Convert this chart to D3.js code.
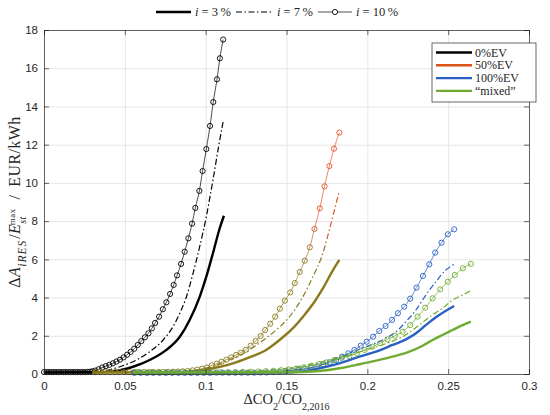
<!DOCTYPE html>
<html>
<head>
<meta charset="utf-8">
<script src="https://cdn.jsdelivr.net/npm/d3@7"></script>
<style>
  body { margin: 0; background: #fff; }
  svg { display: block; }
</style>
</head>
<body>
<script>
const w = 550;
const h = 415;

const xTicks = [0, 0.05, 0.1, 0.15, 0.2, 0.25, 0.3];
const yTicks = [0, 2, 4, 6, 8, 10, 12, 14, 16, 18];

const cases = ["0%EV", "50%EV", "100%EV", "\u201Cmixed\u201D"];
const rates = ["3", "7", "10"];

// 0%EV
const ev0_3 = [[0,0.08],[0.03,0.09],[0.0428,0.14],[0.0551,0.38],[0.0654,0.73],[0.0757,1.26],[0.084,1.95],[0.0901,2.83],[0.0963,4.04],[0.1004,5.09],[0.1045,6.32],[0.1086,7.6],[0.1113,8.28]];
const ev0_7 = [[0,0.08],[0.03,0.09],[0.038,0.17],[0.0469,0.38],[0.0572,0.73],[0.0654,1.17],[0.0737,1.78],[0.0798,2.48],[0.084,3.18],[0.0881,4.04],[0.0922,5.27],[0.0963,6.66],[0.1004,8.23],[0.1045,10.15],[0.108,11.9],[0.111,13.3]];
const ev0_10 = [[0,0.1],[0.0015,0.1],[0.003,0.1],[0.0045,0.1],[0.006,0.1],[0.0075,0.1],[0.009,0.1],[0.0105,0.1],[0.012,0.1],[0.0135,0.1],[0.015,0.1],[0.0165,0.1],[0.018,0.1],[0.0195,0.1],[0.021,0.1],[0.0225,0.1],[0.024,0.1],[0.0255,0.1],[0.027,0.11],[0.0285,0.12],[0.03,0.14],
  [0.0316,0.18],[0.0338,0.25],[0.036,0.34],[0.0382,0.41],[0.0404,0.48],[0.0426,0.56],[0.0448,0.65],[0.047,0.75],[0.0492,0.87],[0.0514,1.01],[0.0536,1.16],[0.0558,1.32],[0.058,1.52],[0.0602,1.72],[0.0624,1.92],[0.0646,2.13],[0.0667,2.39],[0.0687,2.67],[0.0712,3.0],[0.0735,3.39],[0.0757,3.75],[0.078,4.19],[0.0802,4.66],[0.0823,5.16],[0.0848,5.76],[0.087,6.4],[0.0893,7.1],[0.0916,7.87],[0.0936,8.69],[0.0961,9.58],[0.0981,10.62],[0.1004,11.77],[0.1027,12.98],[0.1047,14.23],[0.107,15.42],[0.1088,16.52],[0.1108,17.5]];

// 50%EV
const ev50_3 = [[0.03,0.08],[0.085,0.09],[0.095,0.16],[0.1045,0.3],[0.1169,0.56],[0.1282,0.91],[0.1374,1.26],[0.1457,1.78],[0.1549,2.48],[0.1611,3.09],[0.1673,3.78],[0.1725,4.48],[0.1786,5.41],[0.1827,5.97]];
const ev50_7 = [[0.03,0.09],[0.085,0.11],[0.095,0.2],[0.105,0.42],[0.1167,0.82],[0.1251,1.15],[0.1344,1.69],[0.1436,2.3],[0.1519,3.0],[0.1601,4.04],[0.1663,5.09],[0.1725,6.32],[0.1765,7.54],[0.18,8.7],[0.1827,9.58]];
const ev50_10 = [[0.0318,0.1],[0.0348,0.1],[0.0378,0.1],[0.0408,0.1],[0.0438,0.1],[0.0468,0.1],[0.0498,0.1],[0.0528,0.1],[0.0558,0.1],[0.0588,0.1],[0.0618,0.1],[0.0648,0.1],[0.0678,0.1],[0.0708,0.1],[0.0738,0.1],[0.0768,0.11],[0.0798,0.12],[0.0828,0.13],[0.0858,0.14],[0.0888,0.16],[0.0918,0.19],[0.0948,0.23],[0.0978,0.28],[0.1008,0.34],[0.1038,0.45],[0.1068,0.54],[0.1098,0.64],[0.1128,0.75],[0.1158,0.87],[0.1188,1.0],
  [0.1218,1.12],[0.1249,1.27],[0.1278,1.48],[0.1309,1.73],[0.134,1.99],[0.1368,2.3],[0.1399,2.63],[0.143,3.0],[0.1459,3.42],[0.149,3.84],[0.1523,4.27],[0.1551,4.76],[0.1582,5.34],[0.1613,5.93],[0.1644,6.63],[0.1673,7.59],[0.1706,8.67],[0.1735,9.82],[0.1765,10.88],[0.1794,11.79],[0.1827,12.63]];

// 100%EV
const ev100_3 = [[0.055,0.05],[0.14,0.07],[0.158,0.12],[0.1704,0.3],[0.1827,0.56],[0.1951,0.91],[0.2054,1.17],[0.2156,1.52],[0.2239,1.81],[0.2301,2.13],[0.2362,2.56],[0.2424,2.97],[0.2486,3.31],[0.2537,3.56]];
const ev100_7 = [[0.055,0.06],[0.13,0.08],[0.15,0.17],[0.1683,0.38],[0.1786,0.73],[0.1889,1.08],[0.1992,1.43],[0.2095,1.78],[0.2177,2.21],[0.2239,2.74],[0.2301,3.35],[0.2362,4.13],[0.2424,4.83],[0.2486,5.44],[0.2537,5.74]];
const ev100_10 = [[0.0559,0.06],[0.0598,0.06],[0.0637,0.06],[0.0676,0.06],[0.0715,0.06],[0.0754,0.06],[0.0793,0.06],[0.0832,0.06],[0.0871,0.06],[0.091,0.06],[0.0949,0.06],[0.0988,0.06],[0.1027,0.06],[0.1066,0.07],[0.1105,0.07],[0.1144,0.07],[0.1183,0.07],[0.1222,0.07],[0.1261,0.07],[0.13,0.07],[0.1339,0.08],[0.1378,0.08],[0.1417,0.1],[0.1456,0.12],[0.1495,0.15],[0.1534,0.18],[0.1573,0.22],[0.1612,0.27],[0.1651,0.33],
  [0.169,0.4],[0.1728,0.51],[0.1767,0.61],[0.1807,0.73],[0.1844,0.91],[0.1883,1.08],[0.192,1.26],[0.1959,1.48],[0.1996,1.69],[0.2035,1.95],[0.2074,2.25],[0.2113,2.51],[0.2153,2.83],[0.2189,3.18],[0.2228,3.52],[0.2265,3.94],[0.2304,4.52],[0.2344,5.13],[0.2383,5.74],[0.242,6.35],[0.2459,6.87],[0.2498,7.31],[0.2537,7.57]];

// "mixed"
const mix_3 = [[0.055,0.08],[0.15,0.09],[0.1704,0.16],[0.1827,0.3],[0.1951,0.51],[0.2054,0.7],[0.2156,0.91],[0.226,1.17],[0.2342,1.48],[0.2404,1.78],[0.2465,2.04],[0.2527,2.3],[0.2589,2.56],[0.264,2.74]];
const mix_7 = [[0.055,0.09],[0.13,0.15],[0.15,0.3],[0.165,0.5],[0.175,0.7],[0.185,0.9],[0.195,1.15],[0.205,1.4],[0.215,1.7],[0.2218,1.95],[0.228,2.3],[0.2342,2.7],[0.2404,3.1],[0.2465,3.44],[0.2527,3.87],[0.2589,4.13],[0.264,4.36]];
const mix_10 = [[0.0573,0.1],[0.062,0.1],[0.0667,0.1],[0.0714,0.1],[0.0761,0.1],[0.0808,0.1],[0.0855,0.1],[0.0902,0.1],[0.0949,0.1],[0.0996,0.1],[0.1043,0.1],[0.109,0.1],[0.1137,0.1],[0.1184,0.1],[0.1231,0.11],[0.1278,0.12],[0.1325,0.13],[0.1372,0.15],[0.1419,0.17],[0.1466,0.2],[0.1513,0.24],[0.156,0.29],
  [0.1607,0.35],[0.1654,0.43],[0.17,0.52],[0.1747,0.61],[0.1794,0.72],[0.1841,0.84],[0.1889,0.94],[0.1936,1.08],[0.1983,1.26],[0.2031,1.43],[0.2078,1.61],[0.2125,1.81],[0.2171,2.0],[0.2218,2.21],[0.2265,2.56],[0.2311,3.0],[0.2358,3.47],[0.2404,3.96],[0.2451,4.43],[0.2498,4.83],[0.2541,5.18],[0.2591,5.53],[0.264,5.76]];

const colors = ["#000000", "#d95319", "#2a5fc4", "#6fab30"];
const series = [
  [ev0_3, ev0_7, ev0_10],
  [ev50_3, ev50_7, ev50_10],
  [ev100_3, ev100_7, ev100_10],
  [mix_3, mix_7, mix_10]
];

const mLeft = 44, mRight = 529, mTop = 30, mBottom = 374;

const xScale = d3.scaleLinear().domain([0, 0.3]).range([mLeft, mRight]);
const yScale = d3.scaleLinear().domain([0, 18]).range([mBottom, mTop]);

const svg = d3.select("body").append("svg")
  .attr("width", w)
  .attr("height", h);

// gradient for the 50%EV curves (olive low, red high)
const grad = svg.append("defs").append("linearGradient")
  .attr("id", "g50")
  .attr("gradientUnits", "userSpaceOnUse")
  .attr("x1", 0).attr("x2", 0)
  .attr("y1", yScale(5.8)).attr("y2", yScale(8.2));
grad.append("stop").attr("offset", 0).attr("stop-color", "#8a7a1c");
grad.append("stop").attr("offset", 1).attr("stop-color", "#e4542a");

// grid
const gridCol = "#e6e6e6";
svg.append("g")
  .attr("transform", "translate(0," + mBottom + ")")
  .call(d3.axisBottom(xScale).tickValues(xTicks).tickSize(-(mBottom - mTop)).tickFormat(""))
  .call(g => g.select(".domain").remove())
  .call(g => g.selectAll("line").attr("stroke", gridCol).attr("class", "grid"));
svg.append("g")
  .attr("transform", "translate(" + mLeft + ",0)")
  .call(d3.axisLeft(yScale).tickValues(yTicks).tickSize(-(mRight - mLeft)).tickFormat(""))
  .call(g => g.select(".domain").remove())
  .call(g => g.selectAll("line").attr("stroke", gridCol).attr("class", "grid"));

// curves
const line = d3.line().x(d => xScale(d[0])).y(d => yScale(d[1])).curve(d3.curveMonotoneX);
const plot = svg.append("g");

series.forEach((s, k) => {
  const col = k === 1 ? "url(#g50)" : colors[k];
  // i = 3 %
  plot.append("path").datum(s[0])
    .attr("d", line).attr("fill", "none")
    .attr("stroke", col).attr("stroke-width", 2.4);
  // i = 7 %
  plot.append("path").datum(s[1])
    .attr("d", line).attr("fill", "none")
    .attr("stroke", col).attr("stroke-width", 1.2)
    .attr("stroke-dasharray", "6,2.5,1.5,2.5");
  // i = 10 %
  plot.append("path").datum(s[2])
    .attr("d", line).attr("fill", "none")
    .attr("stroke", col).attr("stroke-width", 0.7);
  plot.append("g").selectAll("circle")
    .data(s[2])
    .enter()
    .append("circle")
    .attr("cx", d => xScale(d[0]))
    .attr("cy", d => yScale(d[1]))
    .attr("r", 2.6)
    .attr("fill", "none")
    .attr("stroke", col)
    .attr("stroke-width", 0.9);
});

// axes
const axCol = "#262626";
const axes = svg.append("g");
axes.append("g")
  .attr("transform", "translate(0," + mBottom + ")")
  .call(d3.axisBottom(xScale).tickValues(xTicks).tickSize(-5).tickPadding(8).tickFormat(d => d));
axes.append("g")
  .attr("transform", "translate(" + mLeft + ",0)")
  .call(d3.axisLeft(yScale).tickValues(yTicks).tickSize(-5).tickPadding(6));
axes.append("g")
  .attr("transform", "translate(0," + mTop + ")")
  .call(d3.axisTop(xScale).tickValues(xTicks).tickSize(-5).tickFormat(""));
axes.append("g")
  .attr("transform", "translate(" + mRight + ",0)")
  .call(d3.axisRight(yScale).tickValues(yTicks).tickSize(-5).tickFormat(""));
axes.selectAll(".domain, .tick line").attr("stroke", axCol).attr("stroke-width", 0.7);
axes.selectAll(".tick text")
  .attr("fill", axCol)
  .attr("font-family", "Liberation Sans, Arial, sans-serif")
  .attr("font-size", 11.5);

// axis titles
const serif = "Liberation Serif, Times New Roman, serif";
const xt = svg.append("text")
  .attr("x", (mLeft + mRight) / 2).attr("y", 404)
  .attr("text-anchor", "middle")
  .attr("font-family", serif).attr("font-size", 14.5).attr("fill", axCol);
xt.append("tspan").text("\u0394CO");
xt.append("tspan").attr("baseline-shift", "sub").attr("font-size", 10).text("2");
xt.append("tspan").text("/CO");
xt.append("tspan").attr("baseline-shift", "sub").attr("font-size", 10).text("2,2016");

const yt = svg.append("text")
  .attr("transform", "translate(20," + ((mTop + mBottom) / 2) + ") rotate(-90)")
  .attr("text-anchor", "middle")
  .attr("font-family", serif).attr("font-size", 16).attr("fill", axCol)
  .attr("letter-spacing", 0.4);
yt.append("tspan").text("\u0394");
yt.append("tspan").attr("font-style", "italic").text("A");
yt.append("tspan").attr("baseline-shift", "sub").attr("font-size", 11.5).attr("font-style", "italic")
  .attr("letter-spacing", 1).text("iRES");
yt.append("tspan").attr("dx", 1).text("/");
yt.append("tspan").attr("font-style", "italic").text("E");
yt.append("tspan").attr("baseline-shift", "sub").attr("font-size", 10).attr("font-style", "italic").text("st");
yt.append("tspan").attr("dx", -9).attr("baseline-shift", "super").attr("font-size", 9).text("max");
yt.append("tspan").attr("dx", 9).text("/");
yt.append("tspan").attr("dx", 8).text("EUR/kWh");

// top legend (interest rates)
const topLeg = svg.append("g");
const legY = 12;
const topItems = [
  { x1: 156, x2: 191, tx: 195, w: 2.6, dash: null, mark: false },
  { x1: 236, x2: 273, tx: 277, w: 1.2, dash: "6,2.5,1.5,2.5", mark: false },
  { x1: 318, x2: 352, tx: 356, w: 0.7, dash: null, mark: true }
];
topItems.forEach((it, i) => {
  topLeg.append("line")
    .attr("x1", it.x1).attr("x2", it.x2).attr("y1", legY).attr("y2", legY)
    .attr("stroke", "#000").attr("stroke-width", it.w)
    .attr("stroke-dasharray", it.dash);
  if (it.mark) {
    topLeg.append("circle").attr("cx", (it.x1 + it.x2) / 2).attr("cy", legY)
      .attr("r", 2.6).attr("fill", "#fff").attr("stroke", "#000").attr("stroke-width", 0.9);
  }
  const t = topLeg.append("text").attr("x", it.tx).attr("y", legY + 4)
    .attr("font-family", serif).attr("font-size", 12.5).attr("fill", axCol);
  t.append("tspan").attr("font-style", "italic").text("i");
  t.append("tspan").text(" = " + rates[i] + "\u2009%");
});

// case legend
const lg = svg.append("g");
lg.append("rect")
  .attr("x", 432).attr("y", 43).attr("width", 104).attr("height", 59)
  .attr("fill", "#fff").attr("stroke", axCol).attr("stroke-width", 0.7);
cases.forEach((c, i) => {
  const yy = 52.5 + i * 12.8;
  lg.append("line")
    .attr("x1", 436).attr("x2", 472).attr("y1", yy).attr("y2", yy)
    .attr("stroke", colors[i]).attr("stroke-width", 2.4);
  lg.append("text")
    .attr("x", 475).attr("y", yy + 4)
    .attr("font-family", serif).attr("font-size", 12).attr("fill", axCol)
    .text(c);
});
</script>
</body>
</html>
